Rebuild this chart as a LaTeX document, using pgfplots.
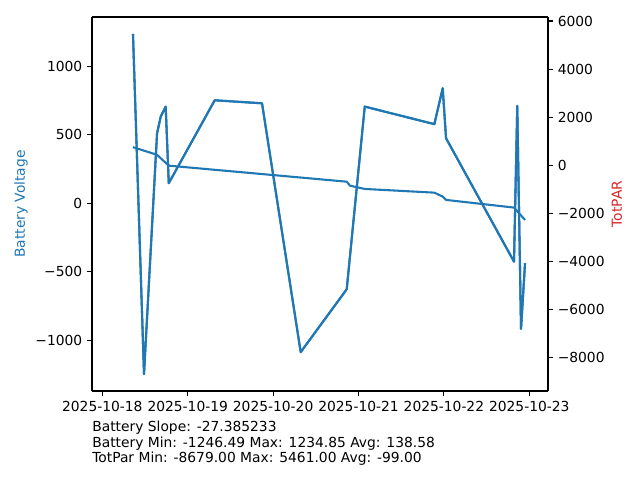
\documentclass[border=0pt]{standalone}
\usepackage{fontspec}
\setmainfont{DejaVu Sans}
\usepackage{pgfplots}
\pgfplotsset{compat=1.18}
\definecolor{c0}{HTML}{1F77B4}
\definecolor{tabred}{HTML}{D62728}
\begin{document}
\begin{tikzpicture}
\pgfplotsset{
  every axis/.append style={
    scale only axis, width=328.32bp, height=269.28bp,
    at={(0,0)}, anchor=south west,
    xmin=-0.121, xmax=5.219,
    tick align=outside, major tick length=3.5bp,
    every tick/.style={black, line width=0.8bp},
    axis line style={line width=0.8bp},
    tick label style={font=\fontsize{10}{12}\selectfont},
    minor tick num=0,
  }
}
\useasboundingbox (-66.24bp,-64.08bp) rectangle (394.56bp,281.52bp);
\begin{axis}[
  ymin=-1370.56, ymax=1358.92,
  ytick={-1000,-500,0,500,1000},
  yticklabels={−1000,−500,0,500,1000},
  xtick={0,1,2,3,4,5},
  xticklabels={2025-10-18,2025-10-19,2025-10-20,2025-10-21,2025-10-22,2025-10-23},
  axis y line*=left, axis x line*=bottom,
]
\addplot[c0, line width=1.5bp, line join=round] coordinates {
(0.359,1234.85) (0.488,-1246.49) (0.641,511) (0.684,632) (0.742,705) (0.778,146)
(1.316,751) (1.870,729) (2.323,-1087) (2.862,-628) (3.073,705) (3.888,577)
(3.986,839) (4.025,474) (4.821,-427) (4.859,710) (4.903,-917) (4.950,-438)
};
\addplot[c0, line width=1.5bp, line join=round] coordinates {
(0.359,409) (0.641,353) (0.778,274) (2.862,157) (2.900,128) (3.073,104)
(3.888,77) (3.986,48) (4.025,24) (4.821,-32) (4.950,-122)
};
\end{axis}
\begin{axis}[
  axis y line*=right, axis x line*=top,
  xtick=\empty,
  ymin=-9386, ymax=6168,
  ytick={-8000,-6000,-4000,-2000,0,2000,4000,6000},
  yticklabels={−8000,−6000,−4000,−2000,0,2000,4000,6000},
]
\addplot[c0, line width=1.5bp, line join=round] coordinates {
(0.359,5461) (0.488,-8679) (0.641,1336) (0.684,2026) (0.742,2441) (0.778,-744)
(1.316,2704) (1.870,2578) (2.323,-7770) (2.862,-5155) (3.073,2441) (3.888,1712)
(3.986,3205) (4.025,1125) (4.821,-4009) (4.859,2470) (4.903,-6801) (4.950,-4072)
};
\end{axis}
\node[rotate=90, text=c0, font=\fontsize{10}{12}\selectfont] at (-51.1bp,134.64bp) {Battery Voltage};
\node[rotate=90, text=tabred, font=\fontsize{10}{12}\selectfont] at (378bp,134.64bp) {TotPAR};
\node[anchor=base west, inner sep=0pt, font=\fontsize{10}{12}\selectfont] at (0bp,-29.4bp) {Battery Slope: -27.385233};
\node[anchor=base west, inner sep=0pt, font=\fontsize{10}{12}\selectfont] at (0bp,-40.4bp) {Battery Min: -1246.49 Max: 1234.85 Avg: 138.58};
\node[anchor=base west, inner sep=0pt, font=\fontsize{10}{12}\selectfont] at (0bp,-51.6bp) {TotPar Min: -8679.00 Max: 5461.00 Avg: -99.00};
\end{tikzpicture}
\end{document}
